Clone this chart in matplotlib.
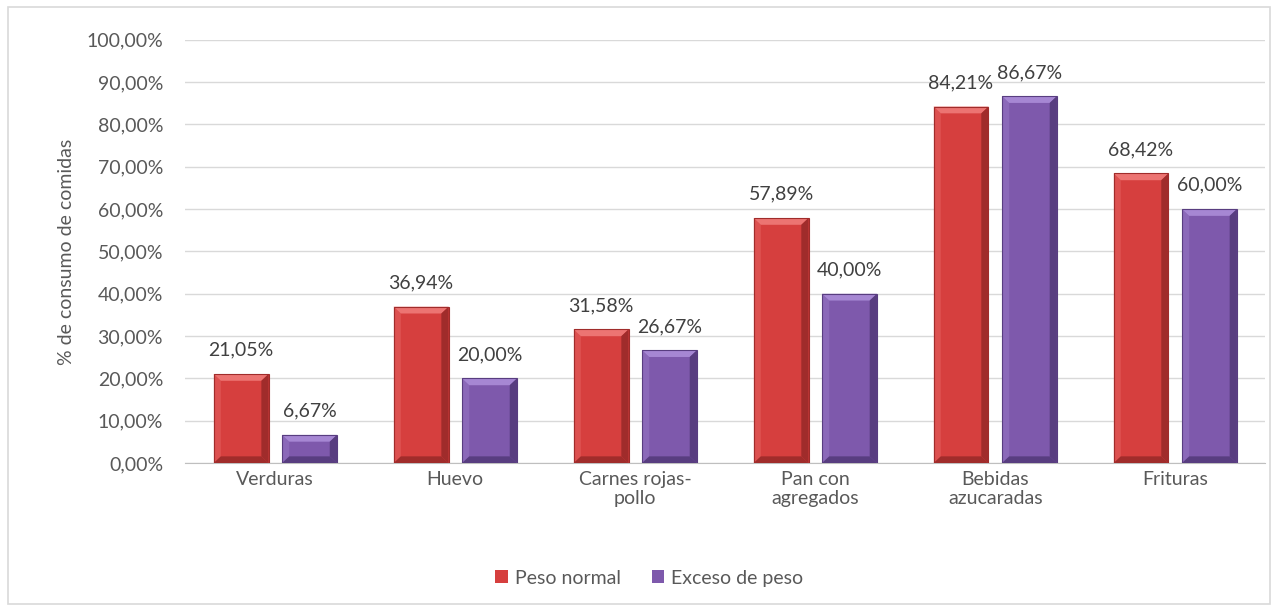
import numpy as np
import matplotlib.pyplot as plt
from matplotlib.patches import Polygon, Rectangle
from matplotlib.ticker import FuncFormatter

plt.rcParams['font.family'] = ['Lato', 'DejaVu Sans']

categorias = ["Verduras", "Huevo", "Carnes rojas-\npollo", "Pan con\nagregados",
              "Bebidas\nazucaradas", "Frituras"]
peso_normal = [21.05, 36.94, 31.58, 57.89, 84.21, 68.42]
exceso_peso = [6.67, 20.00, 26.67, 40.00, 86.67, 60.00]
series = ["Peso normal", "Exceso de peso"]

# (cara, bisel claro, bisel oscuro)
colores = [("#D63F3E", "#EC7472", "#A02C2B"),
           ("#7E59AC", "#A687D3", "#583D80")]

def fmt(v):
    return ("%.2f%%" % v).replace(".", ",")

fig = plt.figure(figsize=(12.78, 6.11), dpi=100)
fig.patches.append(Rectangle((0.006, 0.012), 0.988, 0.976, transform=fig.transFigure,
                             fill=False, edgecolor="#D9D9D9", lw=1.2))
ax = fig.add_axes([0.145, 0.242, 0.845, 0.693])

x = np.arange(len(categorias))
w = 0.305
offs = [-0.19, 0.19]

def bisel(ax, p, cols, bx=0.04, by=1.6):
    x0, y0 = p.get_x(), p.get_y()
    x1, y1 = x0 + p.get_width(), y0 + p.get_height()
    by = min(by, (y1 - y0) / 2.5)
    cara, claro, oscuro = cols
    # arriba, izquierda, derecha, abajo
    ax.add_patch(Polygon([(x0, y1), (x1, y1), (x1 - bx, y1 - by), (x0 + bx, y1 - by)],
                         closed=True, facecolor=claro, lw=0, zorder=4))
    ax.add_patch(Polygon([(x0, y0), (x0, y1), (x0 + bx, y1 - by), (x0 + bx, y0 + by)],
                         closed=True, facecolor=claro, alpha=0.35, lw=0, zorder=4))
    ax.add_patch(Polygon([(x1, y0), (x1, y1), (x1 - bx, y1 - by), (x1 - bx, y0 + by)],
                         closed=True, facecolor=oscuro, lw=0, zorder=4))
    ax.add_patch(Polygon([(x0, y0), (x1, y0), (x1 - bx, y0 + by), (x0 + bx, y0 + by)],
                         closed=True, facecolor=oscuro, lw=0, zorder=4))
    ax.add_patch(Rectangle((x0, y0), x1 - x0, y1 - y0, fill=False,
                           edgecolor=oscuro, lw=0.8, zorder=5))

for vals, nombre, off, cols in zip([peso_normal, exceso_peso], series, offs, colores):
    bars = ax.bar(x + off, vals, w, color=cols[0], label=nombre, zorder=3)
    for p, v in zip(bars, vals):
        bisel(ax, p, cols)
        ax.annotate(fmt(v), (p.get_x() + p.get_width() / 2, v), xytext=(0, 11),
                    textcoords="offset points", ha="center", va="bottom",
                    fontsize=14, color="#404040")

ax.set_ylim(0, 100)
ax.set_yticks(np.arange(0, 101, 10))
ax.yaxis.set_major_formatter(FuncFormatter(lambda v, _: fmt(v)))
ax.set_xlim(-0.5, len(categorias) - 0.5)
ax.set_xticks(x)
ax.set_xticklabels(categorias, linespacing=1.1)
ax.tick_params(axis="both", length=0, labelsize=14, labelcolor="#595959")
ax.tick_params(axis="x", pad=6)
ax.tick_params(axis="y", pad=16)
ax.grid(axis="y", color="#D9D9D9", lw=1, zorder=0)
for s in ["top", "right", "left"]:
    ax.spines[s].set_visible(False)
ax.spines["bottom"].set_color("#BFBFBF")
ax.set_ylabel("% de consumo de comidas", fontsize=14, color="#595959", labelpad=8)

leg = fig.legend(loc="center", bbox_to_anchor=(0.508, 0.054), ncol=2, frameon=False,
                 fontsize=14, handlelength=0.65, handleheight=0.65, columnspacing=1.6,
                 handletextpad=0.35)
for t in leg.get_texts():
    t.set_color("#595959")

fig.savefig("out.png", dpi=100)
